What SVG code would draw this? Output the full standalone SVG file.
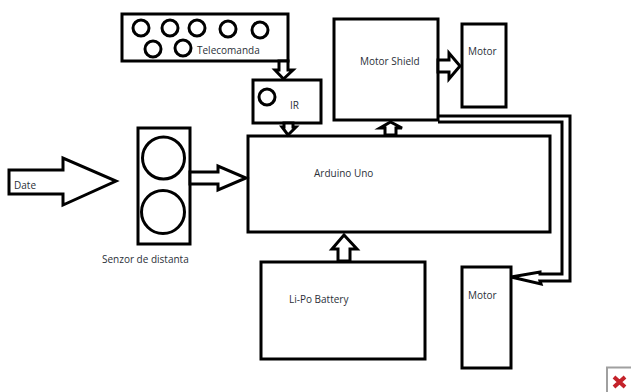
<svg xmlns="http://www.w3.org/2000/svg" width="631" height="392" viewBox="0 0 631 392">
<style>
.s{fill:#fff;stroke:#000;stroke-width:3;stroke-linejoin:miter}
.c{fill:none;stroke:#000;stroke-width:3;stroke-linejoin:miter}
text{font-family:"Open Sans","Noto Sans","Liberation Sans",sans-serif;font-size:10px;fill:#2b3038}
</style>
<rect width="631" height="392" fill="#fff"/>
<g id="telecomanda"><rect class="s" x="122" y="14" width="166" height="47"/>
<circle class="s" cx="141" cy="28" r="8"/><circle class="s" cx="170" cy="28" r="8"/><circle class="s" cx="197" cy="28" r="8"/><circle class="s" cx="228" cy="29" r="8"/><circle class="s" cx="260" cy="30" r="8"/><circle class="s" cx="153" cy="49" r="8"/><circle class="s" cx="183" cy="48" r="8"/>
<text x="197" y="54">Telecomanda</text></g>
<g id="ir"><rect class="s" x="253" y="80" width="68" height="43"/><circle class="s" cx="267" cy="97" r="8"/><text x="290" y="109">IR</text></g>
<g id="arduino"><rect class="s" x="248" y="136" width="302" height="96"/><text x="314" y="177">Arduino Uno</text></g>
<g id="motor-shield"><rect class="s" x="334" y="19" width="104" height="101"/><text x="360" y="65">Motor Shield</text></g>
<g id="motor-1"><rect class="s" x="462" y="24" width="44" height="83"/><text x="468" y="55">Motor</text></g>
<g id="motor-2"><rect class="s" x="462" y="267" width="49" height="101"/><text x="468" y="299">Motor</text></g>
<g id="battery"><rect class="s" x="261" y="262" width="164" height="97"/><text x="289" y="303">Li-Po Battery</text></g>
<g id="senzor"><rect class="s" x="138" y="128" width="52" height="116"/><circle class="s" cx="163.500" cy="158" r="21"/><circle class="s" cx="163" cy="212" r="21.500"/><text x="102" y="263">Senzor de distanta</text></g>
<g id="date"><polygon class="s" points="9,170 63,170 63,158 116,181 63,205 63,194 9,194"/><text x="14" y="189">Date</text></g>
<g id="connectors">
<polygon class="s" points="279,61 288,61 288,70 293,70 283.500,79 275,70 279,70"/>
<polygon class="s" points="284,123 293,123 293,127 296,127 288,135 282,127 284,127"/>
<polygon class="s" points="190,172 218,172 218,166 246,178 218,190 218,184 190,184"/>
<polygon class="s" points="438,60 449,60 449,53 460,66 449,79 449,72 438,72"/>
<polygon class="s" points="385,135 385,128 380,128 390.500,122 402,128 396,128 396,135"/>
<polygon class="s" points="338,261 338,249 332,249 344,235 357,249 350,249 350,261"/>
<path class="c" d="M438 116H570V281H540L541 284L511 277L540 272V274H562V122H438"/>
</g>
<g id="icon"><path d="M607 392V367.500H631" fill="none" stroke="#a0a0a0" stroke-width="2"/><path d="M614 377L625 387M625 377L614 387" stroke="#c4222a" stroke-width="4"/></g>
</svg>
